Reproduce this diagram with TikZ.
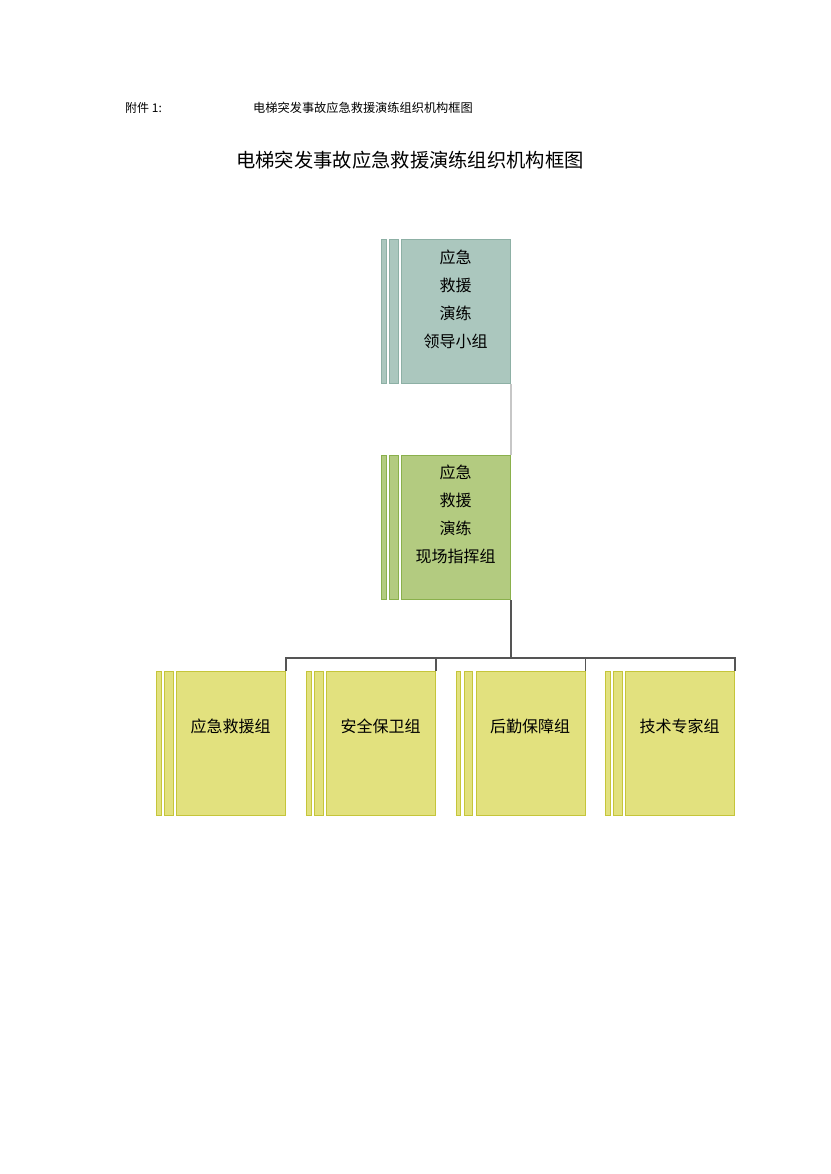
\documentclass[tikz,border=0pt]{standalone}
\usepackage{fontspec}
\newfontfamily\cjk{Noto Sans CJK SC}
\definecolor{topfill}{HTML}{ABC7BE}
\definecolor{topdraw}{HTML}{8DB0A5}
\definecolor{midfill}{HTML}{B3CB80}
\definecolor{middraw}{HTML}{8AB04C}
\definecolor{botfill}{HTML}{E2E17E}
\definecolor{botdraw}{HTML}{C5C53A}
\definecolor{linkc}{HTML}{555555}
\begin{document}
\begin{tikzpicture}[x=1pt,y=-1pt,
  box/.style={draw=#1draw, fill=#1fill, line width=1pt, inner sep=0pt, anchor=north west, minimum height=144pt},
  mainbox/.style={box=#1, minimum width=109pt},
  stripA/.style={box=#1, minimum width=4.5pt},
  stripB/.style={box=#1, minimum width=8.5pt},
  lbl/.style={font=\cjk\fontsize{16}{28}\selectfont, align=center, inner sep=0pt},
  link/.style={draw=linkc, line width=1.3pt},
  faint/.style={draw=black!22, line width=1.3pt}]
\useasboundingbox[fill=white] (0,0) rectangle (830,1174);

\node[font=\cjk\fontsize{12}{14}\selectfont, anchor=west, inner sep=0pt] (att) at (125,108) {附件 1:};
\node[font=\cjk\fontsize{12.2}{14}\selectfont, anchor=west, inner sep=0pt] (subt) at (253,108) {电梯突发事故应急救援演练组织机构框图};
\node[font=\cjk\fontsize{19.3}{22}\selectfont, inner sep=0pt] (title) at (410,160) {电梯突发事故应急救援演练组织机构框图};

% top box
\node[stripA=top] (topA) at (381,239) {};
\node[stripB=top] (topB) at (389,239) {};
\node[mainbox=top] (top) at (401,239) {};
\node[lbl] (topT) at (455.5,299) {应急\\救援\\演练\\领导小组};

% middle box
\node[stripA=mid] (midA) at (381,455) {};
\node[stripB=mid] (midB) at (389,455) {};
\node[mainbox=mid] (mid) at (401,455) {};
\node[lbl] (midT) at (455.5,514.5) {应急\\救援\\演练\\现场指挥组};

% bottom boxes
\foreach \n/\x/\t in {b1/176/应急救援组, b2/326/安全保卫组, b3/475.5/后勤保障组, b4/625/技术专家组}{
  \node[stripA=bot] (\n A) at (\x-20,671) {};
  \node[stripB=bot] (\n B) at (\x-12,671) {};
  \node[mainbox=bot] (\n) at (\x,671) {};
  \node[lbl] (\n T) at (\x+54.5,726) {\t};
}

% connectors
\draw[faint] (top.south east) -- (mid.north east);
\coordinate (hub) at ([yshift=-58pt]mid.south east);
\draw[link] (mid.south east) -- (hub);
\draw[link] (b1.north east) -- (b1.north east |- hub) -- (b4.north east |- hub) -- (b4.north east);
\draw[link] (b2.north east) -- (b2.north east |- hub);
\draw[link] (b3.north east) -- (b3.north east |- hub);
\end{tikzpicture}
\end{document}
